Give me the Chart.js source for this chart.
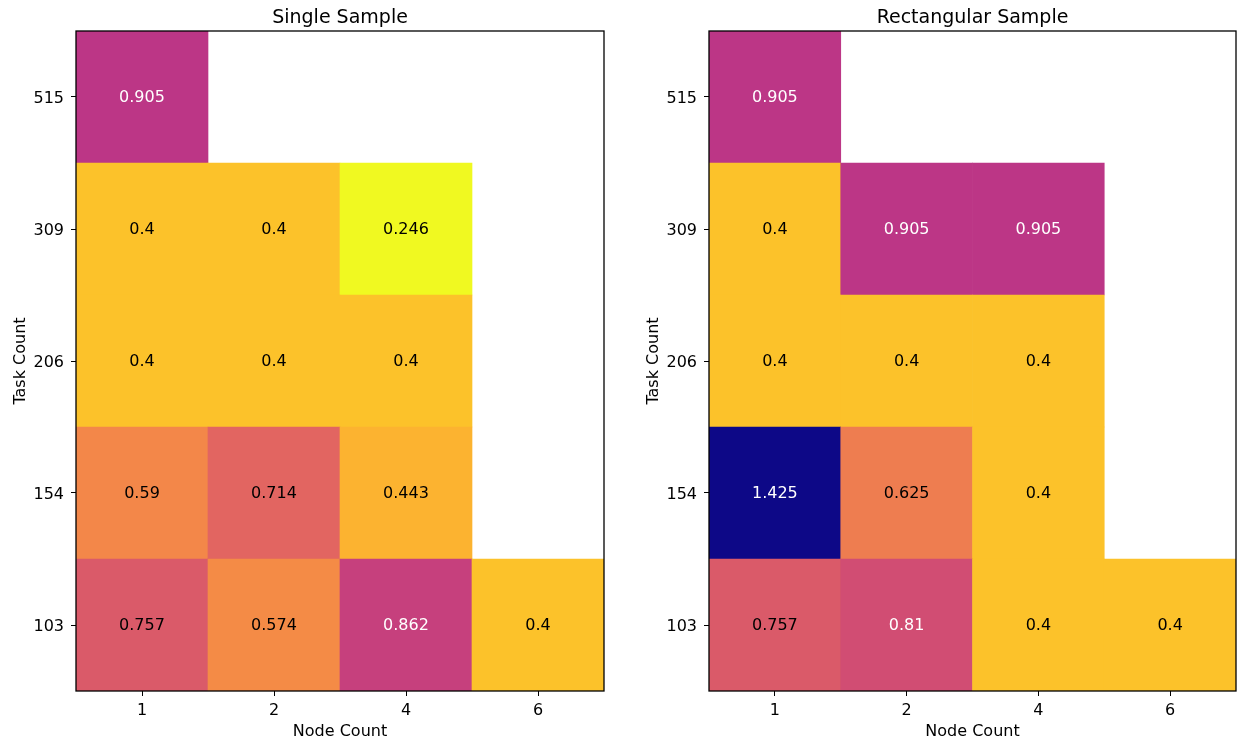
<!DOCTYPE html>
<html><head><meta charset="utf-8">
<script src="https://cdn.jsdelivr.net/npm/chart.js@4"></script>
<style>
html,body{margin:0;padding:0;background:#fff;width:1238px;height:740px;overflow:hidden}
canvas{position:absolute;top:0}
</style></head><body>
<canvas id="c1" width="619" height="740" style="left:0"></canvas>
<canvas id="c2" width="619" height="740" style="left:619px"></canvas>
<script>
// ---- data ----
const nodeCounts = ['1', '2', '4', '6'];
const taskCounts = ['103', '154', '206', '309', '515']; // bottom -> top
const singleSample = [
  [0.757, 0.574, 0.862, 0.4],   // 103
  [0.59, 0.714, 0.443, null],   // 154
  [0.4, 0.4, 0.4, null],        // 206
  [0.4, 0.4, 0.246, null],      // 309
  [0.905, null, null, null]     // 515
];
const rectangularSample = [
  [0.757, 0.81, 0.4, 0.4],      // 103
  [1.425, 0.625, 0.4, null],    // 154
  [0.4, 0.4, 0.4, null],        // 206
  [0.4, 0.905, 0.905, null],    // 309
  [0.905, null, null, null]     // 515
];
const vMin = 0.246, vMax = 1.425;

// ---- colormap (plasma, reversed) ----
const plasmaStops = ['#0d0887','#41049d','#6a00a8','#8f0da4','#b12a90','#cc4778','#e16462','#f2844b','#fca636','#fcce25','#f0f921'];
function hex(h){return [parseInt(h.slice(1,3),16),parseInt(h.slice(3,5),16),parseInt(h.slice(5,7),16)];}
function plasma(t){
  t = Math.max(0, Math.min(1, t));
  const p = t * 10, i = Math.min(9, Math.floor(p)), f = p - i;
  const a = hex(plasmaStops[i]), b = hex(plasmaStops[i+1]);
  return 'rgb(' + a.map((x,k)=>Math.round(x + (b[k]-x)*f)).join(',') + ')';
}
function norm(v){ return (vMax - v) / (vMax - vMin); }

const FONT = 'DejaVu Sans';

const decorPlugin = {
  id: 'decor',
  afterDatasetsDraw(chart, args, opts) {
    const ctx = chart.ctx;
    const m = opts.matrix;
    ctx.save();
    ctx.font = '16px "' + FONT + '"';
    ctx.textAlign = 'center';
    ctx.textBaseline = 'middle';
    chart.data.datasets.forEach((ds, r) => {
      const meta = chart.getDatasetMeta(r);
      meta.data.forEach((el, c) => {
        const v = m[r][c];
        if (v == null) return;
        const cy = (el.y + el.base) / 2;
        ctx.fillStyle = norm(v) < 0.55 ? '#ffffff' : '#000000';
        ctx.fillText(String(v), el.x, cy + 1);
      });
    });
    ctx.restore();
  },
  afterDraw(chart, args, opts) {
    const ctx = chart.ctx, a = chart.chartArea;
    ctx.save();
    ctx.strokeStyle = '#000';
    ctx.lineWidth = 1.3;
    ctx.strokeRect(a.left, a.top, a.right - a.left, a.bottom - a.top);
    ctx.fillStyle = '#000';
    ctx.font = '19px "' + FONT + '"';
    ctx.textAlign = 'center';
    ctx.textBaseline = 'alphabetic';
    ctx.fillText(opts.title, (a.left + a.right) / 2, 23);
    ctx.restore();
  }
};

function makeChart(id, title, matrix, yWidth, yTitlePad, padRight) {
  const datasets = taskCounts.map((t, r) => ({
    label: t,
    data: matrix[r].map(v => v == null ? null : [r - 0.5, r + 0.5]),
    backgroundColor: matrix[r].map(v => v == null ? 'rgba(0,0,0,0)' : plasma(norm(v))),
    borderWidth: 0,
    grouped: false,
    barPercentage: 1,
    categoryPercentage: 1
  }));
  return new Chart(document.getElementById(id), {
    type: 'bar',
    data: { labels: nodeCounts, datasets },
    options: {
      responsive: false,
      animation: false,
      layout: { padding: { top: 31, left: 0, right: padRight, bottom: 0 } },
      plugins: {
        legend: { display: false },
        tooltip: { enabled: false },
        decor: { matrix, title }
      },
      scales: {
        x: {
          type: 'category',
          offset: true,
          grid: { display: true, drawOnChartArea: false, offset: false, tickLength: 5, color: '#000', tickColor: '#000', tickWidth: 1 },
          border: { display: false },
          ticks: { color: '#000', font: { family: FONT, size: 16 }, padding: 5, maxRotation: 0 },
          title: { display: true, text: 'Node Count', color: '#000', font: { family: FONT, size: 16 }, padding: { top: 0, bottom: -1 } },
          afterFit: s => { s.height = 49; }
        },
        y: {
          type: 'linear',
          min: -0.5, max: 4.5,
          afterBuildTicks: s => { s.ticks = taskCounts.map((_, i) => ({ value: i })); },
          grid: { display: true, drawOnChartArea: false, tickLength: 5, color: '#000', tickColor: '#000', tickWidth: 1 },
          border: { display: false },
          ticks: { color: '#000', font: { family: FONT, size: 16 }, padding: 7, labelOffset: 2, callback: v => taskCounts[v] },
          title: { display: true, text: 'Task Count', color: '#000', font: { family: FONT, size: 16 }, padding: { top: yTitlePad + 1, bottom: 0 } },
          afterFit: s => { s.width = yWidth; }
        }
      }
    },
    plugins: [decorPlugin]
  });
}

makeChart('c1', 'Single Sample', singleSample, 76, 10, 15);
makeChart('c2', 'Rectangular Sample', rectangularSample, 90, 24, 2);
</script>
</body></html>
